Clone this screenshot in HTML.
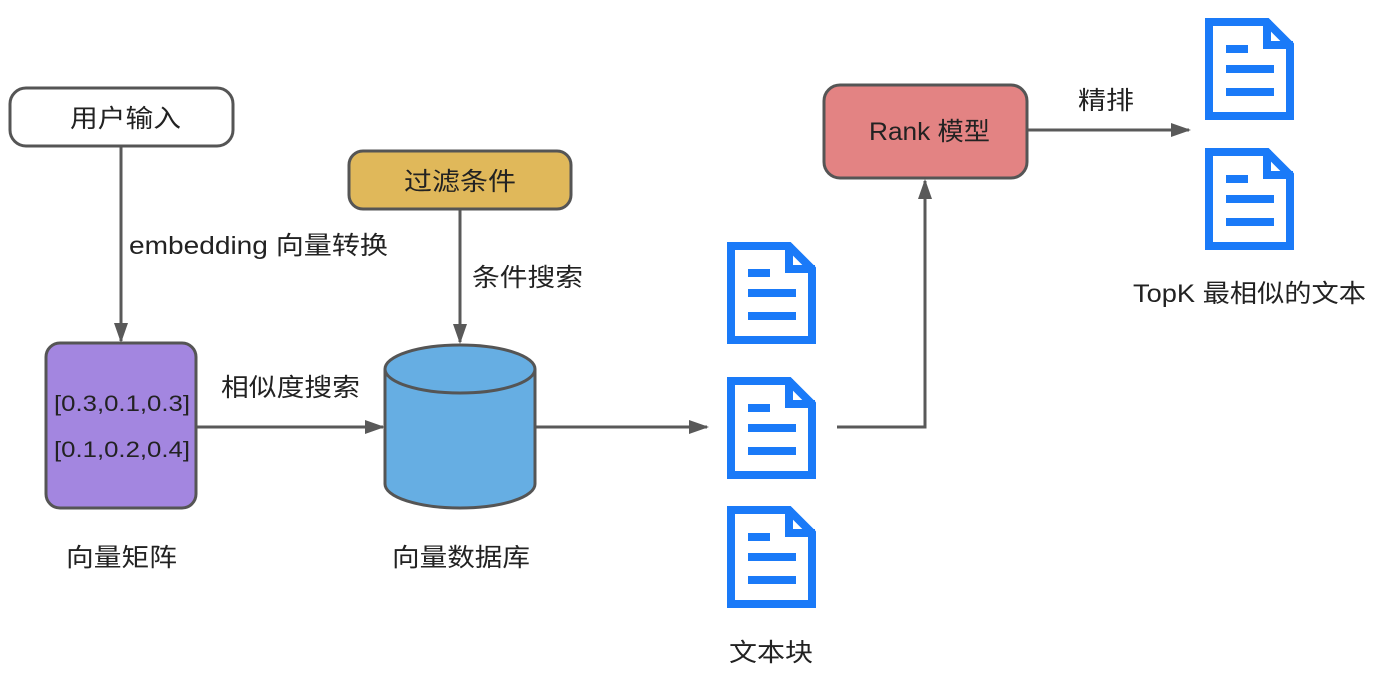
<!DOCTYPE html>
<html><head><meta charset="utf-8"><style>
html,body{margin:0;padding:0;background:#fff;}
svg text{font-family:"Liberation Sans","Noto Sans CJK SC",sans-serif;fill:#222;}
</style></head><body>
<svg width="1387" height="688" viewBox="0 0 1387 688" xmlns="http://www.w3.org/2000/svg">
<defs>
<marker id="ah" markerWidth="20" markerHeight="16" refX="18" refY="8" orient="auto" markerUnits="userSpaceOnUse" viewBox="0 0 20 16">
<path d="M0,1 L20,8 L0,15 Z" fill="#595959"/></marker>
<g id="doc">
<path d="M4,4 H62 L85,27 V98 H4 Z" fill="#fff" stroke="#1a7af8" stroke-width="8" stroke-linejoin="miter"/>
<path d="M62,2 V27 H88" fill="none" stroke="#1a7af8" stroke-width="8"/>
<path d="M21,31 H43 M21,51 H69 M21,74 H69" stroke="#1a7af8" stroke-width="8"/>
</g>
</defs>
<g stroke="#595959" stroke-width="3" fill="none">
<line x1="121" y1="147" x2="121" y2="341" marker-end="url(#ah)"/>
<line x1="460" y1="210" x2="460" y2="342" marker-end="url(#ah)"/>
<line x1="197" y1="427" x2="383" y2="427" marker-end="url(#ah)"/>
<line x1="536" y1="427" x2="707" y2="427" marker-end="url(#ah)"/>
<polyline points="837,427 925,427 925,181" marker-end="url(#ah)"/>
<line x1="1028" y1="130" x2="1189" y2="130" marker-end="url(#ah)"/>
</g>
<rect x="10" y="88" width="223" height="58" rx="16" fill="#fff" stroke="#555" stroke-width="3"/>
<rect x="349" y="151" width="222" height="58" rx="14" fill="#e0b85a" stroke="#555" stroke-width="3"/>
<rect x="824" y="85" width="203" height="93" rx="16" fill="#e38383" stroke="#555" stroke-width="3"/>
<rect x="46" y="343" width="150" height="165" rx="14" fill="#a386e0" stroke="#555" stroke-width="3"/>
<path d="M385,369 V484 A75,24 0 0 0 535,484 V369" fill="#66aee3" stroke="#555" stroke-width="3"/>
<ellipse cx="460" cy="369" rx="75" ry="24" fill="#66aee3" stroke="#555" stroke-width="3"/>
<use href="#doc" x="727" y="242"/>
<use href="#doc" x="727" y="377"/>
<use href="#doc" x="727" y="506"/>
<use href="#doc" x="1205" y="18"/>
<use href="#doc" x="1205" y="148"/>
<g font-size="25" lengthAdjust="spacingAndGlyphs">
<text x="70" y="127" textLength="111" lengthAdjust="spacingAndGlyphs">用户输入</text>
<text x="404" y="190" textLength="112" lengthAdjust="spacingAndGlyphs">过滤条件</text>
<text x="869" y="140" textLength="121" lengthAdjust="spacingAndGlyphs">Rank 模型</text>
<text x="54" y="411" font-size="22" textLength="136" lengthAdjust="spacingAndGlyphs">[0.3,0.1,0.3]</text>
<text x="54" y="457" font-size="22" textLength="136" lengthAdjust="spacingAndGlyphs">[0.1,0.2,0.4]</text>
<text x="129" y="254" textLength="259" lengthAdjust="spacingAndGlyphs">embedding 向量转换</text>
<text x="472" y="286" textLength="111" lengthAdjust="spacingAndGlyphs">条件搜索</text>
<text x="221" y="396" textLength="139" lengthAdjust="spacingAndGlyphs">相似度搜索</text>
<text x="1078" y="109" textLength="56" lengthAdjust="spacingAndGlyphs">精排</text>
<text x="66" y="566" textLength="111" lengthAdjust="spacingAndGlyphs">向量矩阵</text>
<text x="392" y="566" textLength="138" lengthAdjust="spacingAndGlyphs">向量数据库</text>
<text x="729" y="661" textLength="84" lengthAdjust="spacingAndGlyphs">文本块</text>
<text x="1133" y="302" textLength="233" lengthAdjust="spacingAndGlyphs">TopK 最相似的文本</text>
</g>
</svg>
</body></html>
